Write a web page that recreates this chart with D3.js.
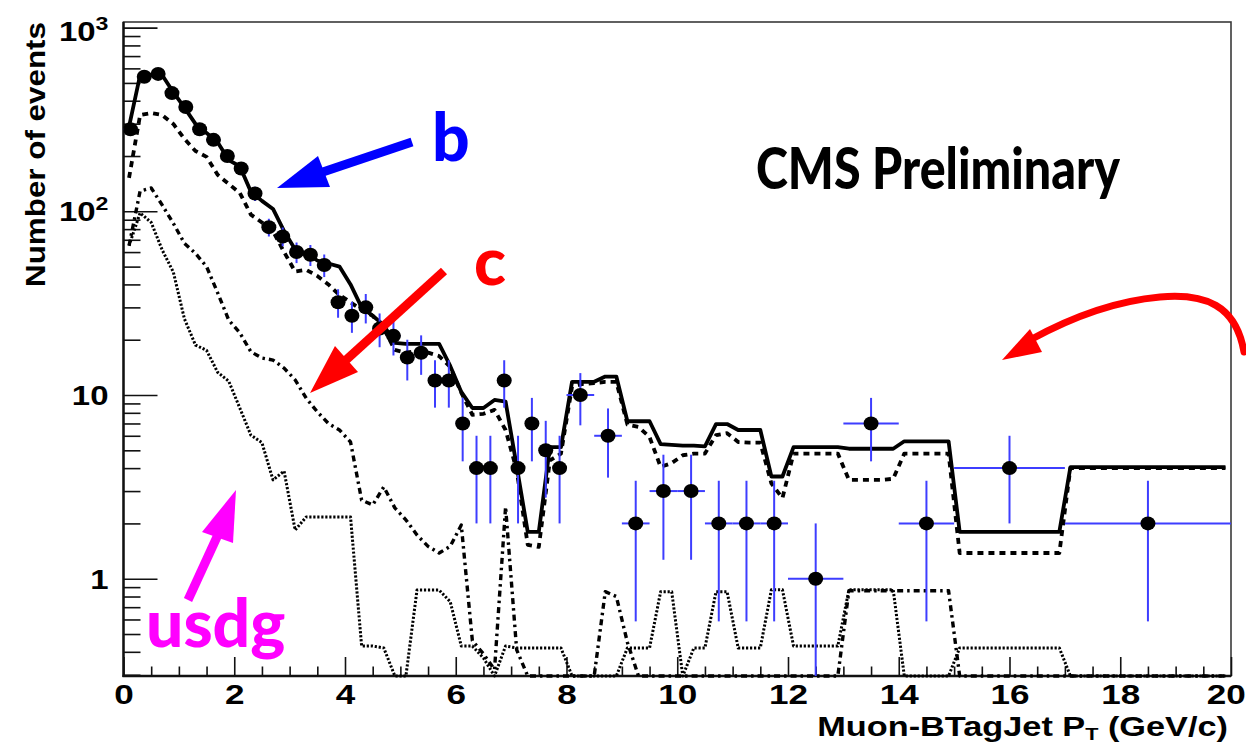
<!DOCTYPE html>
<html>
<head>
<meta charset="utf-8">
<script src="https://cdn.jsdelivr.net/npm/d3@7"></script>
<style>
  html, body { margin: 0; padding: 0; background: #ffffff; }
  svg { display: block; }
</style>
</head>
<body>
<svg id="chart" width="1246" height="744"></svg>
<script>
// ---- Data: muon pT relative to the b-tagged jet ----

// Data histogram: variable bin edges (GeV/c) and event counts per bin
const dataEdges = [0, 0.25, 0.5, 0.75, 1, 1.25, 1.5, 1.75, 2, 2.25, 2.5, 2.75, 3, 3.25, 3.5, 3.75,
  4, 4.25, 4.5, 4.75, 5, 5.25, 5.5, 5.75, 6, 6.25, 6.5, 6.75, 7, 7.25, 7.5, 7.75,
  8, 8.5, 9, 9.5, 10, 10.5, 11, 11.5, 12, 13, 14, 15, 17, 20];
const dataCounts = [280, 540, 560, 440, 370, 280, 245, 200, 171, 125, 82, 73, 60, 58, 51, 32,
  27, 30, 23, 21, 16, 17, 12, 12, 7, 4, 4, 12, 4, 7, 5, 4,
  10, 6, 2, 3, 3, 2, 2, 2, 1, 7, 2, 4, 2];

// Simulation templates: 100 bins of 0.2 GeV/c from 0 to 20
const mcBinWidth = 0.2;
const mcTotal = [289, 551, 555, 551, 445, 367, 299, 267, 238, 190,
  176, 128, 114, 103, 78, 62, 59, 54, 52, 50,
  40, 30, 27, 24, 19.2, 19, 19, 19, 19, 14.4,
  10.4, 8.5, 8.5, 9.4, 9.2, 4.1, 1.8, 1.8, 5.2, 5.2,
  11.8, 11.8, 11.8, 12.6, 12.6, 7.2, 7.2, 7.2, 5.4, 5.35,
  5.3, 5.3, 5.25, 6.95, 6.95, 6.45, 6.45, 6.45, 3.6, 3.6,
  5.2, 5.2, 5.2, 5.2, 5.2, 5.1, 5.1, 5.1, 5.1, 5.1,
  5.6, 5.6, 5.6, 5.6, 5.6, 1.8, 1.8, 1.8, 1.8, 1.8,
  1.8, 1.8, 1.8, 1.8, 1.8, 4.05, 4.05, 4.05, 4.05, 4.05,
  4.05, 4.05, 4.05, 4.05, 4.05, 4.05, 4.05, 4.05, 4.05, 4.05];
const mcB = [152, 334, 343, 334, 299, 248, 213, 198, 158, 141,
  126, 96, 87, 78, 60, 47, 48, 44.5, 40, 35,
  32, 29, 27, 23, 17.6, 17, 17.3, 17, 16.3, 14.2,
  10.3, 7.8, 7.9, 8.3, 6.45, 3.9, 1.53, 1.49, 4.4, 4.8,
  11.1, 11.5, 11.6, 11.8, 11.8, 6.9, 6.7, 5.9, 4.06, 4.26,
  4.7, 4.8, 4.8, 6.05, 6.2, 5.55, 5.5, 5.5, 3.3, 2.75,
  4.8, 4.8, 4.8, 4.8, 4.8, 3.45, 3.45, 3.45, 3.45, 3.5,
  4.8, 4.8, 4.8, 4.8, 4.8, 1.38, 1.38, 1.38, 1.38, 1.38,
  1.38, 1.38, 1.38, 1.38, 1.38, 4.0, 4.0, 4.0, 4.0, 4.0,
  4.0, 4.0, 4.0, 4.0, 4.0, 4.0, 4.0, 4.0, 4.0, 4.0];
const mcC = [65, 129, 134, 108, 86, 67, 59, 50, 36, 25.6,
  21.8, 17.2, 15.9, 15.5, 14, 12.1, 9.6, 8.1, 7.0, 6.45,
  5.55, 2.68, 2.52, 3.16, 2.43, 2.09, 1.73, 1.5, 1.38, 1.5,
  1.96, 0.46, 0.39, 0.32, 2.46, 0.41, 0.1, 0.1, 0.1, 0.1,
  0.1, 0.1, 0.2, 0.85, 0.8, 0.45, 0.1, 0.1, 0.1, 0.1,
  0.1, 0.1, 0.1, 0.1, 0.1, 0.1, 0.1, 0.1, 0.1, 0.1,
  0.1, 0.1, 0.1, 0.1, 0.1, 0.86, 0.86, 0.86, 0.86, 0.86,
  0.86, 0.86, 0.86, 0.86, 0.86, 0.1, 0.1, 0.1, 0.1, 0.1,
  0.1, 0.1, 0.1, 0.1, 0.1, 0.1, 0.1, 0.1, 0.1, 0.1,
  0.1, 0.1, 0.1, 0.1, 0.1, 0.1, 0.1, 0.1, 0.1, 0.1];
const mcUsdg = [65, 98, 87, 61.5, 46.7, 26, 18.7, 17.5, 13.3, 11.9,
  8.5, 6.05, 5.5, 3.45, 3.85, 1.84, 2.17, 2.17, 2.17, 2.17,
  2.17, 0.43, 0.43, 0.42, 0.1, 0.1, 0.867, 0.867, 0.867, 0.75,
  0.43, 0.43, 0.37, 0.28, 0.43, 0.42, 0.42, 0.42, 0.42, 0.42,
  0.1, 0.1, 0.1, 0.1, 0.1, 0.42, 0.42, 0.42, 0.85, 0.85,
  0.1, 0.42, 0.42, 0.85, 0.85, 0.42, 0.42, 0.42, 0.87, 0.87,
  0.43, 0.43, 0.43, 0.43, 0.43, 0.87, 0.87, 0.87, 0.87, 0.87,
  0.1, 0.1, 0.1, 0.1, 0.1, 0.42, 0.42, 0.42, 0.42, 0.42,
  0.42, 0.42, 0.42, 0.42, 0.42, 0.1, 0.1, 0.1, 0.1, 0.1,
  0.1, 0.1, 0.1, 0.1, 0.1, 0.1, 0.1, 0.1, 0.1, 0.1];

// Axis ticks and labels
const xMajorTicks = [0, 2, 4, 6, 8, 10, 12, 14, 16, 18, 20];
const yMajorTicks = [1, 10, 100, 1000];
const yTickLabels = [["1", ""], ["10", ""], ["10", "2"], ["10", "3"]];
const xTitle = ["Muon-BTagJet P", "T", " (GeV/c)"];
const yTitle = "Number of events";
const cmsLabel = "CMS Preliminary";
const flavourLabels = ["b", "c", "usdg"];

// ---- Layout ----
const svg = d3.select("#chart");
const plot = { left: 123.5, right: 1231, top: 22, bottom: 676 };
const rootFont = "'Liberation Sans', Arial, Helvetica, sans-serif";
const handFont = "'Comic Sans MS', 'Lato', 'Noto Sans', sans-serif";

const x = d3.scaleLinear().domain([0, 20]).range([plot.left, plot.right]);
const y = d3.scaleLog().domain([0.2954, 1073]).range([plot.bottom, plot.top]);
const yClamped = y.copy().clamp(true);

// ---- Frame ----
svg.append("rect")
  .attr("x", plot.left).attr("y", plot.top)
  .attr("width", plot.right - plot.left).attr("height", plot.bottom - plot.top)
  .attr("fill", "none").attr("stroke", "#3a3a3a").attr("stroke-width", 1.6);

// ---- Axes ----
const yMinor = [];
for (let d = -1; d <= 2; d++) {
  for (let k = 2; k <= 9; k++) {
    const v = k * Math.pow(10, d);
    if (v > y.domain()[0] && v < y.domain()[1]) yMinor.push(v);
  }
}
const xMinor = d3.range(0, 20.001, 0.5).filter(v => Math.abs(v / 2 - Math.round(v / 2)) > 1e-6);

const yAxisMajor = svg.append("g").attr("transform", `translate(${plot.left},0)`)
  .call(d3.axisLeft(y).tickValues(yMajorTicks).tickSize(-34).tickFormat(""));
const yAxisMinor = svg.append("g").attr("transform", `translate(${plot.left},0)`)
  .call(d3.axisLeft(y).tickValues(yMinor).tickSize(-17).tickFormat(""));
const xAxisMajor = svg.append("g").attr("transform", `translate(0,${plot.bottom})`)
  .call(d3.axisBottom(x).tickValues(xMajorTicks).tickSize(-19).tickPadding(0).tickFormat(d3.format("d")));
const xAxisMinor = svg.append("g").attr("transform", `translate(0,${plot.bottom})`)
  .call(d3.axisBottom(x).tickValues(xMinor).tickSize(-9.5).tickFormat(""));

[yAxisMajor, yAxisMinor, xAxisMajor, xAxisMinor].forEach(g => {
  g.select(".domain").remove();
  g.selectAll(".tick line").attr("stroke", "#111").attr("stroke-width", 1.6);
});

// x labels; the last one is nudged so it stays inside the canvas
xAxisMajor.selectAll(".tick text")
  .attr("y", 28).attr("dy", 0)
  .attr("x", d => (d === 20 ? -4 : 0))
  .attr("transform", "scale(1.3,1)")
  .attr("font-family", rootFont).attr("font-weight", "bold")
  .attr("font-size", 27).attr("fill", "#000");

// Decade labels on the y axis, with exponent as superscript
const yLab = svg.append("g").attr("class", "y-labels");
yMajorTicks.forEach((v, i) => {
  const [base, expo] = yTickLabels[i];
  const ty = y(v) + 10 + (v === 1000 ? 3 : 0);
  const t = yLab.append("text")
    .attr("transform", `translate(${plot.left - 15},${ty}) scale(1.22,1)`)
    .attr("text-anchor", "end")
    .attr("font-family", rootFont).attr("font-weight", "bold")
    .attr("font-size", 27).attr("fill", "#000");
  t.append("tspan").text(base);
  if (expo) t.append("tspan").attr("dy", -11).attr("font-size", 19).text(expo);
});

// Axis lines drawn over the ticks
svg.append("line").attr("x1", plot.left).attr("x2", plot.left)
  .attr("y1", plot.top).attr("y2", plot.bottom + 1)
  .attr("stroke", "#111").attr("stroke-width", 2.4);
svg.append("line").attr("x1", plot.left - 1).attr("x2", plot.right)
  .attr("y1", plot.bottom).attr("y2", plot.bottom)
  .attr("stroke", "#111").attr("stroke-width", 2.4);

// Axis titles
const xt = svg.append("text")
  .attr("transform", `translate(1228,736) scale(1.27,1)`)
  .attr("text-anchor", "end")
  .attr("font-family", rootFont).attr("font-weight", "bold")
  .attr("font-size", 27).attr("fill", "#000");
xt.append("tspan").text(xTitle[0]);
xt.append("tspan").attr("dy", 4).attr("font-size", 17).text(xTitle[1]);
xt.append("tspan").attr("dy", -4).text(xTitle[2]);

svg.append("text")
  .attr("transform", "translate(45,22) rotate(-90)")
  .attr("text-anchor", "end")
  .attr("font-family", rootFont).attr("font-weight", "bold")
  .attr("font-size", 28).attr("fill", "#000")
  .attr("textLength", 265).attr("lengthAdjust", "spacingAndGlyphs")
  .text(yTitle);

// ---- Simulation curves (lines through bin centres) ----
svg.append("clipPath").attr("id", "plot-clip")
  .append("rect").attr("x", plot.left).attr("y", plot.top - 2)
  .attr("width", plot.right - plot.left).attr("height", plot.bottom - plot.top + 4);

const mcLine = d3.line()
  .x((d, i) => x(mcBinWidth * (i + 0.5)))
  .y(d => yClamped(d));

const curves = [
  { values: mcUsdg, dash: "2.2,1.8", width: 3.0 },
  { values: mcC, dash: "6,4,2.5,4", width: 3.4 },
  { values: mcB, dash: "6,5", width: 3.8 },
  { values: mcTotal, dash: null, width: 3.8 }
];
const mcGroup = svg.append("g").attr("clip-path", "url(#plot-clip)");
curves.forEach(c => {
  mcGroup.append("path")
    .attr("d", mcLine(c.values))
    .attr("fill", "none")
    .attr("stroke", "#000")
    .attr("stroke-width", c.width)
    .attr("stroke-linejoin", "round")
    .attr("stroke-dasharray", c.dash);
});

// ---- Data points with Poisson errors ----
const dataBins = dataCounts.map((n, i) => ({ lo: dataEdges[i], hi: dataEdges[i + 1], n }));
const dataGroup = svg.append("g").attr("clip-path", "url(#plot-clip)");
const errColour = "#3d3dff";
dataBins.forEach(d => {
  const cx = x((d.lo + d.hi) / 2);
  const err = Math.sqrt(d.n);
  dataGroup.append("line")
    .attr("x1", cx).attr("x2", cx)
    .attr("y1", yClamped(d.n + err)).attr("y2", yClamped(Math.max(d.n - err, 1e-3)))
    .attr("stroke", errColour).attr("stroke-width", 2);
  dataGroup.append("line")
    .attr("x1", x(d.lo)).attr("x2", x(d.hi))
    .attr("y1", y(d.n)).attr("y2", y(d.n))
    .attr("stroke", errColour).attr("stroke-width", 2);
});
dataBins.forEach(d => {
  dataGroup.append("ellipse")
    .attr("cx", x((d.lo + d.hi) / 2)).attr("cy", y(d.n))
    .attr("rx", 7.5).attr("ry", 7).attr("fill", "#000");
});

// ---- Label ----
svg.append("text")
  .attr("x", 756).attr("y", 189)
  .attr("font-family", "'Lato', 'Noto Sans', sans-serif").attr("font-weight", 900)
  .attr("font-size", 57).attr("fill", "#000")
  .attr("textLength", 364).attr("lengthAdjust", "spacingAndGlyphs")
  .text(cmsLabel);

// ---- Hand-drawn flavour annotations ----
const ann = svg.append("g");
// b: blue arrow
ann.append("line").attr("x1", 412).attr("y1", 142).attr("x2", 305).attr("y2", 178)
  .attr("stroke", "#0000ff").attr("stroke-width", 9);
ann.append("polygon").attr("points", "277,188 318,156 330,187").attr("fill", "#0000ff");
ann.append("text").attr("x", 432).attr("y", 161)
  .attr("font-family", handFont).attr("font-weight", 900).attr("font-size", 66)
  .attr("fill", "#0000ff").text(flavourLabels[0]);

// c: red arrow
ann.append("line").attr("x1", 444).attr("y1", 271).attr("x2", 335).attr("y2", 370)
  .attr("stroke", "#ff0000").attr("stroke-width", 9);
ann.append("polygon").attr("points", "310,393 335,346 358,372").attr("fill", "#ff0000");
ann.append("text").attr("x", 474).attr("y", 285)
  .attr("font-family", handFont).attr("font-weight", 900).attr("font-size", 66)
  .attr("fill", "#ff0000").text(flavourLabels[1]);

// usdg: magenta arrow
ann.append("line").attr("x1", 188).attr("y1", 600).attr("x2", 222).attr("y2", 526)
  .attr("stroke", "#ff00ff").attr("stroke-width", 9);
ann.append("polygon").attr("points", "236,490 202,532 233,543").attr("fill", "#ff00ff");
ann.append("text").attr("x", 146).attr("y", 647)
  .attr("font-family", handFont).attr("font-weight", 900).attr("font-size", 66)
  .attr("fill", "#ff00ff").text(flavourLabels[2]);

// curved red arrow on the right
ann.append("path")
  .attr("d", "M1244,352 C1236,305 1205,293 1160,297 C1115,301 1070,318 1030,340")
  .attr("fill", "none").attr("stroke", "#ff0000").attr("stroke-width", 7)
  .attr("stroke-linecap", "round");
ann.append("polygon").attr("points", "1002,360 1030,329 1042,352").attr("fill", "#ff0000");
</script>
</body>
</html>
